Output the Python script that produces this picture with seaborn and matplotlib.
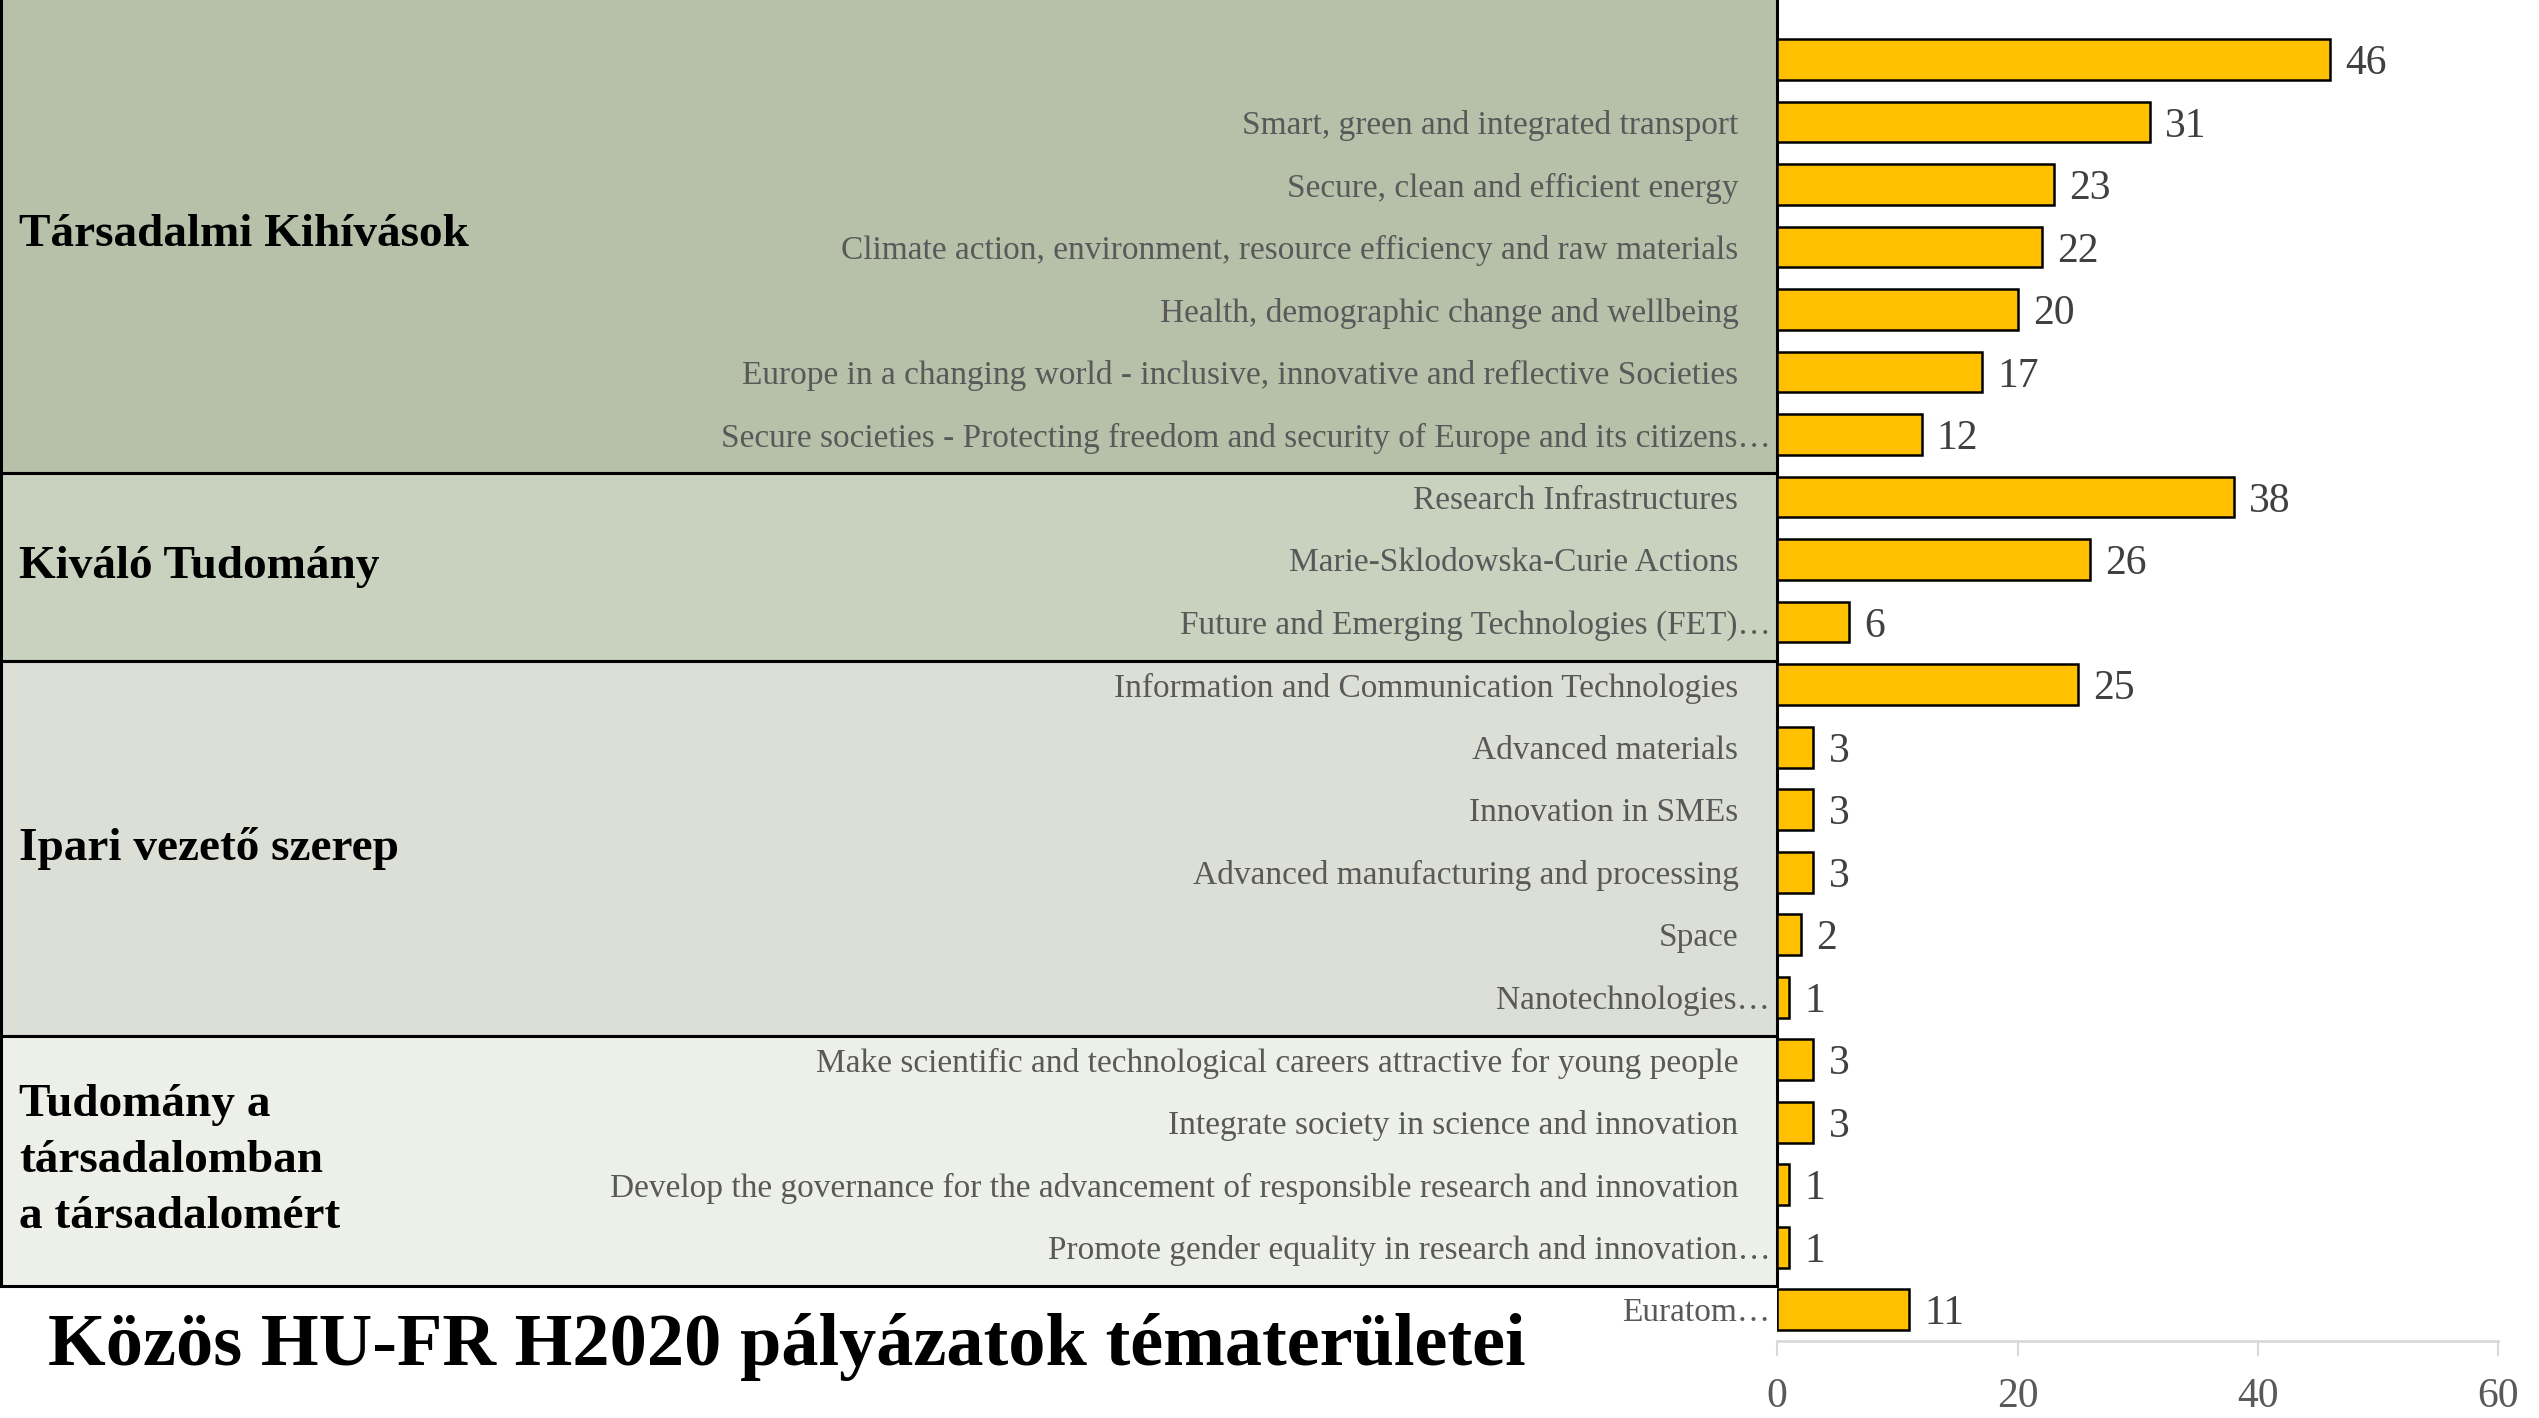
import matplotlib
matplotlib.use("Agg")
import matplotlib.pyplot as plt
import matplotlib.transforms as mtransforms
from matplotlib.patches import Rectangle
import numpy as np
import pandas as pd
import seaborn as sns

# ── Data ──────────────────────────────────────────────────
categories = [
    "",
    "Smart, green and integrated transport",
    "Secure, clean and efficient energy",
    "Climate action, environment, resource efficiency and raw materials",
    "Health, demographic change and wellbeing",
    "Europe in a changing world - inclusive, innovative and reflective Societies",
    "Secure societies - Protecting freedom and security of Europe and its citizens…",
    "Research Infrastructures",
    "Marie-Sklodowska-Curie Actions",
    "Future and Emerging Technologies (FET)…",
    "Information and Communication Technologies",
    "Advanced materials",
    "Innovation in SMEs",
    "Advanced manufacturing and processing",
    "Space",
    "Nanotechnologies…",
    "Make scientific and technological careers attractive for young people",
    "Integrate society in science and innovation",
    "Develop the governance for the advancement of responsible research and innovation",
    "Promote gender equality in research and innovation…",
    "Euratom…",
]
values = [46, 31, 23, 22, 20, 17, 12, 38, 26, 6, 25, 3, 3, 3, 2, 1, 3, 3, 1, 1, 11]

group_names = ["Társadalmi Kihívások", "Kiváló Tudomány", "Ipari vezető szerep",
               "Tudomány a\ntársadalomban\na társadalomért"]
group_sizes = [7, 3, 6, 4]
group_colors = ["#B7C1AA", "#C9D1BF", "#DCDFD5", "#EDEFE9"]

title = "Közös HU-FR H2020 pályázatok tématerületei"
xticks = [0, 20, 40, 60]

# ── Style ─────────────────────────────────────────────────
sns.set_theme(style="white")
plt.rcParams["font.family"] = ["Liberation Serif", "DejaVu Serif"]

df = pd.DataFrame({"kategoria": categories, "ertek": values})

fig = plt.figure(figsize=(25.39, 14.18), dpi=100)
ax = fig.add_axes([0.700, 0.0543, 0.284, 0.9257])
ax.set_facecolor("none")

sns.barplot(data=df, x="ertek", y="kategoria", orient="h", color="#FFC000",
            edgecolor="black", linewidth=1.8, width=0.65, saturation=1, ax=ax)

# value labels next to each bar
for i, v in enumerate(values):
    ax.annotate(str(v), (v, i), xytext=(11, 0), textcoords="offset points",
                ha="left", va="center_baseline", fontsize=30, color="#404040")

ax.set_xlim(0, 60)
ax.set_ylim(len(categories) - 0.5, -0.5)
ax.set_xticks(xticks)
ax.set_xlabel("")
ax.set_ylabel("")

for s in ["top", "right", "left"]:
    ax.spines[s].set_visible(False)
ax.spines["bottom"].set_color("#D9D9D9")
ax.spines["bottom"].set_linewidth(2)
ax.tick_params(axis="x", bottom=True, length=11, width=1.5, color="#D9D9D9",
               labelsize=30, labelcolor="#595959", pad=15)
ax.tick_params(axis="y", left=False, labelsize=24, labelcolor="#595959", pad=22)

# truncated labels run up to the axis line
shift = mtransforms.ScaledTranslation(23 / 72, 0, fig.dpi_scale_trans)
for lab in ax.get_yticklabels():
    if lab.get_text().endswith("…"):
        lab.set_transform(lab.get_transform() + shift)

# ── Group boxes ───────────────────────────────────────────
trans = mtransforms.blended_transform_factory(fig.transFigure, ax.transData)
left_edge = ax.get_position().x0
bounds = np.concatenate([[-1.0], np.cumsum(group_sizes) - 0.5 + 0.12])
for name, col, y0, y1 in zip(group_names, group_colors, bounds[:-1], bounds[1:]):
    fig.add_artist(Rectangle((0.0005, y0), left_edge - 0.0005, y1 - y0,
                             transform=trans, facecolor=col, edgecolor="black",
                             linewidth=2.2, zorder=-1))
    fig.text(0.0075, (y0 + y1) / 2, name, transform=trans, ha="left", va="center",
             fontsize=34, fontweight="bold", color="black", linespacing=1.45)

fig.text(0.019, 0.05, title, ha="left", va="center", fontsize=53.5,
         fontweight="bold", color="black")

fig.savefig("out.png", dpi=100)
